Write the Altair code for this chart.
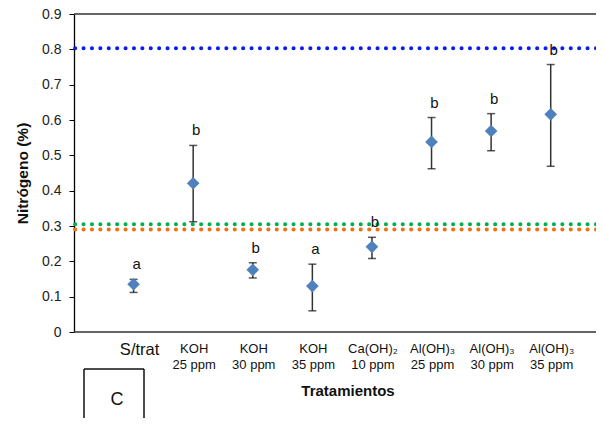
import altair as alt
import pandas as pd

# ---- data ----
positions = [1, 2, 3, 4, 5, 6, 7, 8]
line1 = ["S/trat", "KOH", "KOH", "KOH", "Ca(OH)₂", "Al(OH)₃", "Al(OH)₃", "Al(OH)₃"]
line2 = ["", "25 ppm", "30 ppm", "35 ppm", "10 ppm", "25 ppm", "30 ppm", "35 ppm"]
means = [0.135, 0.421, 0.176, 0.130, 0.241, 0.538, 0.569, 0.616]
upper = [0.149, 0.528, 0.196, 0.192, 0.268, 0.607, 0.618, 0.757]
lower = [0.112, 0.312, 0.153, 0.060, 0.208, 0.462, 0.513, 0.469]
letters = ["a", "b", "b", "a", "b", "b", "b", "b"]
y_ticks = [0, 0.1, 0.2, 0.3, 0.4, 0.5, 0.6, 0.7, 0.8, 0.9]

ref_values = [0.803, 0.305, 0.290]
ref_colors = ["#0A1EF0", "#00B050", "#F07010"]
frame_values = [0.0, 0.9]

df = pd.DataFrame({
    "pos": positions, "l1": line1, "l2": line2,
    "mean": means, "up": upper, "lo": lower, "let": letters,
})
ref = pd.DataFrame({"v": ref_values, "c": ref_colors})
frame = pd.DataFrame({"v": frame_values})

W, H = 522, 318
FONT = "Liberation Sans"

xs = alt.Scale(domain=[0, 8.76], nice=False, zero=False)
ys = alt.Scale(domain=[0, 0.9], nice=False)

YAX = alt.Axis(
    title="Nitrógeno (%)", values=y_ticks,
    labelExpr="datum.value == 0 ? '0' : format(datum.value, '.1f')",
)

X = alt.X("pos:Q", scale=xs, axis=None)


def Yq(field):
    return alt.Y(field, type="quantitative", scale=ys, axis=YAX, title="Nitrógeno (%)")


base = alt.Chart(df)

frame_rules = alt.Chart(frame).mark_rule(color="#333", strokeWidth=1.3).encode(y=Yq("v"))

refs = alt.Chart(ref).mark_rule(strokeWidth=4, strokeDash=[0.1, 8.3], strokeCap="round").encode(
    y=Yq("v"),
    color=alt.Color("c:N", scale=None),
)

bars = base.mark_rule(color="#333", strokeWidth=1.5).encode(
    x=X, y=Yq("lo"), y2="up:Q")
cap_up = base.mark_tick(color="#111", orient="horizontal", size=8, thickness=1.5).encode(
    x=X, y=Yq("up"))
cap_lo = base.mark_tick(color="#111", orient="horizontal", size=8, thickness=1.5).encode(
    x=X, y=Yq("lo"))

pts = base.mark_point(shape="diamond", filled=True, size=160, color="#4F81BD", opacity=1).encode(
    x=X, y=Yq("mean"))

lets = base.mark_text(font=FONT, fontSize=15, dy=-15, dx=3, color="#111").encode(
    x=X, y=Yq("up"), text="let:N")

lab1a = base.transform_filter("datum.pos == 1").mark_text(
    font=FONT, fontSize=16.5, baseline="alphabetic", color="#111", dx=6).encode(
    x=X, y=alt.value(341), text="l1:N")
lab1 = base.transform_filter("datum.pos > 1").mark_text(
    font=FONT, fontSize=13, baseline="alphabetic", color="#111", dx=1).encode(
    x=X, y=alt.value(339), text="l1:N")
lab2 = base.mark_text(font=FONT, fontSize=13, baseline="alphabetic", color="#111", dx=1).encode(
    x=X, y=alt.value(355), text="l2:N")

xtitle = alt.Chart(pd.DataFrame({"t": ["Tratamientos"]})).mark_text(
    font=FONT, fontSize=15, fontWeight="bold", color="#111", baseline="middle").encode(
    x=alt.value(274), y=alt.value(377), text="t:N")

one = pd.DataFrame({"a": [0]})
box_l = alt.Chart(one).mark_rule(color="#111", strokeWidth=1.5).encode(
    x=alt.value(10), y=alt.value(355), y2=alt.value(430))
box_r = alt.Chart(one).mark_rule(color="#111", strokeWidth=1.5).encode(
    x=alt.value(70), y=alt.value(355), y2=alt.value(430))
box_t = alt.Chart(one).mark_rule(color="#111", strokeWidth=1.5).encode(
    x=alt.value(10), x2=alt.value(70), y=alt.value(355))
box_c = alt.Chart(pd.DataFrame({"t": ["C"]})).mark_text(
    font=FONT, fontSize=18, color="#111", baseline="middle").encode(
    x=alt.value(43), y=alt.value(386), text="t:N")

chart = alt.layer(
    frame_rules, refs, bars, cap_up, cap_lo, pts, lets, lab1a, lab1, lab2, xtitle,
    box_l, box_r, box_t, box_c
).properties(
    width=W, height=H,
    background="white",
    autosize=alt.AutoSizeParams(type="none"),
    padding={"left": 66, "top": 6, "right": 0, "bottom": 86},
).configure_view(
    stroke=None
).configure_axis(
    labelOverlap=False, labelBound=False, labelFlush=False,
    grid=False, domainColor="#000", domainWidth=1.3, tickColor="#000", tickSize=5,
    tickWidth=1, labelFont=FONT, labelFontSize=14, labelColor="#222", labelPadding=8,
    titleFont=FONT, titleFontSize=15.5, titleFontWeight="bold", titleColor="#111",
    titlePadding=11,
)

chart.save("out.html", embed_options={"renderer": "svg", "actions": False})
